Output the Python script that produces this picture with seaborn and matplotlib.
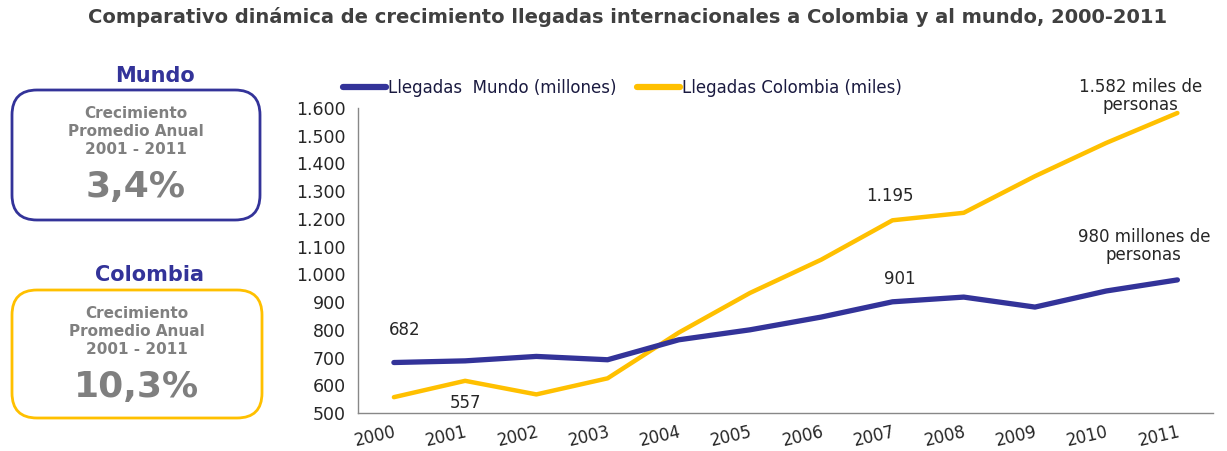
import matplotlib
matplotlib.use("Agg")
import matplotlib.pyplot as plt
import seaborn as sns
import pandas as pd
from matplotlib.patches import FancyBboxPatch
from matplotlib.lines import Line2D
from matplotlib.ticker import FuncFormatter, FixedLocator

# Data
years = ['2000', '2001', '2002', '2003', '2004', '2005', '2006', '2007', '2008', '2009', '2010', '2011']
mundo = [682, 688, 704, 692, 764, 800, 846, 901, 918, 882, 940, 980]
colombia = [557, 616, 567, 625, 790, 933, 1053, 1195, 1222, 1354, 1474, 1582]
serie_names = ['Llegadas  Mundo (millones)', 'Llegadas Colombia (miles)']
colors = ['#333399', '#FFC000']

sns.set_style("white")
plt.rcParams['font.family'] = ['DejaVu Sans']

df = pd.DataFrame({
    'idx': list(range(len(years))) * 2,
    'valor': mundo + colombia,
    'serie': [serie_names[0]] * len(years) + [serie_names[1]] * len(years),
})

fig = plt.figure(figsize=(12.27, 4.51), dpi=100)
ax = fig.add_axes([0.292, 0.0843, 0.6966, 0.6762])

sns.lineplot(data=df[df.serie == serie_names[1]], x='idx', y='valor', color=colors[1],
             linewidth=3.2, ax=ax, legend=False)
sns.lineplot(data=df[df.serie == serie_names[0]], x='idx', y='valor', color=colors[0],
             linewidth=3.8, ax=ax, legend=False)

ax.set_xlim(-0.5, len(years) - 0.5)
ax.set_ylim(500, 1600)
ax.set_yticks(range(500, 1601, 100))
ax.yaxis.set_major_formatter(FuncFormatter(lambda v, p: f"{v:,.0f}".replace(',', '.')))
ax.set_xticks(range(len(years)))
ax.set_xticklabels(years, rotation=13, ha='right', rotation_mode='anchor')
ax.xaxis.set_minor_locator(FixedLocator([i - 0.5 for i in range(len(years) + 1)]))
ax.tick_params(axis='x', which='major', length=0, pad=7, labelsize=12, colors='#262626')
ax.tick_params(axis='x', which='minor', length=5, color='#888888', width=1)
ax.tick_params(axis='y', length=5, color='#888888', width=1, labelsize=12.5, colors='#262626', pad=4)
ax.set_xlabel('')
ax.set_ylabel('')
for s in ['top', 'right']:
    ax.spines[s].set_visible(False)
for s in ['left', 'bottom']:
    ax.spines[s].set_color('#888888')
    ax.spines[s].set_linewidth(1)

# Point annotations
txt = dict(fontsize=12, color='#262626', ha='center', va='center', clip_on=False)
ax.text(0.15, 800, '682', **txt)
ax.text(1.0, 536, '557', **txt)
ax.text(7.1, 983, '901', **txt)
ax.text(6.96, 1283, '1.195', **txt)
ax.text(10.48, 1643, '1.582 miles de\npersonas', linespacing=0.95, **txt)
ax.text(10.53, 1102, '980 millones de\npersonas', linespacing=0.95, **txt)

# Legend
handles = [Line2D([0], [0], color=c, lw=4.5, solid_capstyle='round') for c in colors]
fig.legend(handles, serie_names, loc='center left', bbox_to_anchor=(343 / 1227, 1 - 88 / 451),
           frameon=False, ncol=2, handlelength=2.6, handletextpad=0.1, columnspacing=1.2,
           borderpad=0, borderaxespad=0, fontsize=12, labelcolor='#1a1a40')

# Title
fig.text(628 / 1227, 1 - 17 / 451,
         'Comparativo dinámica de crecimiento llegadas internacionales a Colombia y al mundo, 2000-2011',
         ha='center', va='center', fontsize=14, fontweight='bold', color='#404040')

# Left side panels, pixel coordinates
pan = fig.add_axes([0, 0, 294 / 1227, 1])
pan.set_xlim(0, 294)
pan.set_ylim(451, 0)
pan.axis('off')

boxes = [
    ('Mundo', '3,4%', colors[0], 155, 76, 12, 90, 248, 130),
    ('Colombia', '10,3%', colors[1], 150, 275, 12, 290, 250, 128),
]
for name, val, col, tx, ty, bx, by, bw, bh in boxes:
    pan.text(tx, ty, name, ha='center', va='center', fontsize=15, fontweight='bold', color='#333399')
    pan.add_patch(FancyBboxPatch((bx + 25, by + 25), bw - 50, bh - 50,
                                 boxstyle='round,pad=25', linewidth=2, edgecolor=col, facecolor='white'))
    pan.text(bx + bw / 2, by + 42, 'Crecimiento\nPromedio Anual\n2001 - 2011', ha='center', va='center',
             fontsize=11, fontweight='bold', color='#808080', linespacing=1.25)
    pan.text(bx + bw / 2, by + 97, val, ha='center', va='center', fontsize=26, fontweight='bold',
             color='#7f7f7f')

fig.savefig('out.png', dpi=100)
